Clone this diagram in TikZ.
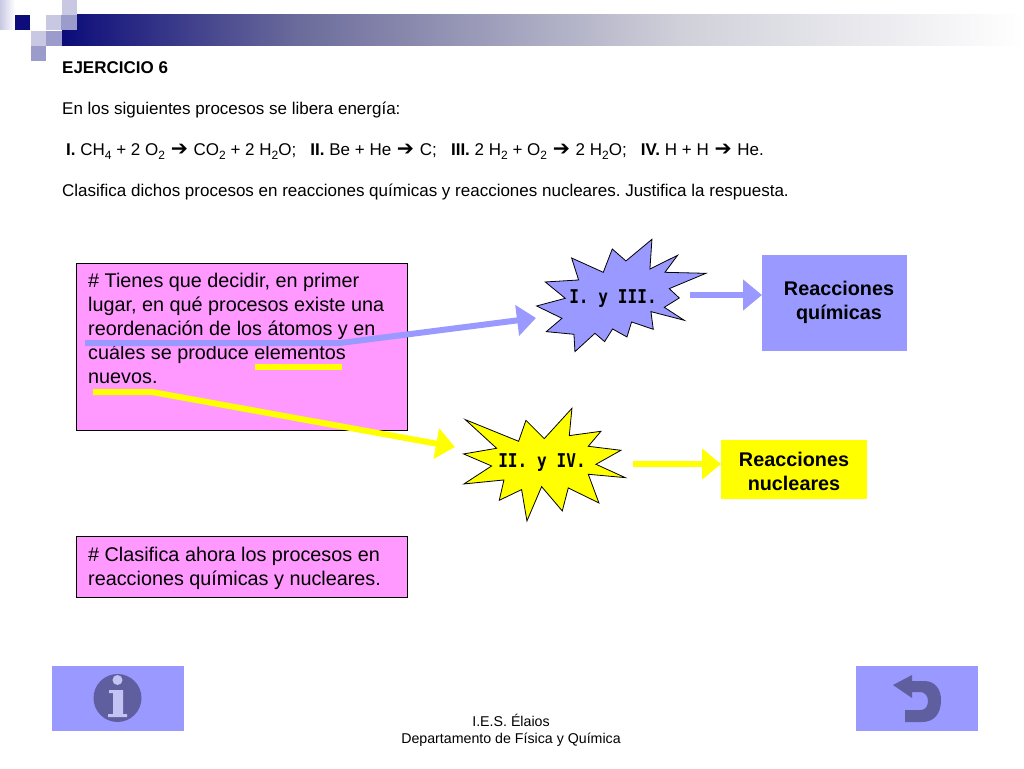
\documentclass[tikz,border=0pt]{standalone}
\usepackage{fontspec}
\setmainfont{Liberation Sans}
\newfontfamily\arrowfont{DejaVu Sans}
\newfontfamily\starfont{DejaVu Sans Mono}
\usetikzlibrary{arrows.meta}
\frenchspacing
\definecolor{periw}{HTML}{9999FF}
\definecolor{pinkbox}{HTML}{FF99FF}
\definecolor{pureyellow}{HTML}{FFFF00}
\definecolor{navyband}{HTML}{0C0C7A}
\definecolor{bandone}{HTML}{6C6C9C}
\definecolor{bandtwo}{HTML}{D0D0DA}
\definecolor{iconblue}{HTML}{5F5F9F}
\definecolor{iconlight}{HTML}{C4C4F4}
\definecolor{sqlight}{HTML}{C8C8E2}
\definecolor{sqmid}{HTML}{9C9CCC}
\newcommand{\rarrow}{\hspace{1pt}{\arrowfont\fontsize{20.5}{20}\selectfont\char"2794}\hspace{1pt}}
\newcommand{\lowered}[1]{\raisebox{-0.25em}{\fontsize{12}{14}\selectfont #1}}
\tikzset{
    smalltext/.style={anchor=base west,inner sep=0pt,font=\fontsize{17}{20}\selectfont},
    pinktext/.style={anchor=north west,inner sep=0pt,align=left,font=\fontsize{19.8}{24}\selectfont},
    boxtext/.style={inner sep=0pt,align=center,font=\fontsize{19.8}{24}\selectfont\bfseries},
    footertext/.style={inner sep=0pt,align=center,font=\fontsize{14.2}{17}\selectfont},
    startext/.style={inner sep=0pt,xscale=0.85,font=\fontsize{19}{22}\selectfont\starfont\bfseries},
    bluearrow/.style={draw=periw,line width=6pt,-{Triangle[length=19pt,width=30pt]}},
    yellowarrow/.style={draw=pureyellow,line width=6pt,-{Triangle[length=19pt,width=30pt]}},
}
\begin{document}
\begin{tikzpicture}[x=1pt,y=-1pt]
    \useasboundingbox (0,0) rectangle (1024,768);
    % banner at the top
    \shade[left color=navyband,right color=bandone] (62,15) rectangle (300,46);
    \shade[left color=bandone,right color=bandtwo] (300,15) rectangle (680,46);
    \shade[left color=bandtwo,right color=white] (680,15) rectangle (1024,46);
    \shade[left color=sqlight,right color=white] (0,0) rectangle (15,30);
    \fill[sqlight] (62,0) rectangle (77,15);
    \fill[navyband] (15,15) rectangle (30,30);
    \fill[sqlight] (46,15) rectangle (61,30);
    \fill[sqmid] (61,15) rectangle (77,30);
    \fill[sqlight] (31,31) rectangle (46,46);
    \fill[sqmid] (46,31) rectangle (62,46);
    \fill[sqmid] (31,46) rectangle (46,61);
    % exercise text
    \node[smalltext] (title) at (62,73) {\textbf{EJERCICIO 6}};
    \node[smalltext] (intro) at (62,114) {En los siguientes procesos se libera energía:};
    \node[smalltext] (equations) at (66,155) {\textbf{I.} CH\lowered{4} + 2 O\lowered{2} \rarrow{} CO\lowered{2} + 2 H\lowered{2}O;\ \ \ \textbf{II.} Be + He \rarrow{} C;\ \ \ \textbf{III.} 2 H\lowered{2} + O\lowered{2} \rarrow{} 2 H\lowered{2}O;\ \ \ \textbf{IV.} H + H \rarrow{} He.};
    \node[smalltext] (question) at (62,196) {Clasifica dichos procesos en reacciones químicas y reacciones nucleares. Justifica la respuesta.};
    % pink boxes
    \draw[fill=pinkbox,line width=0.8pt] (76,263) rectangle (407,430);
    \draw[fill=pinkbox,line width=0.8pt] (76,536) rectangle (407,597);
    \node[pinktext] (hint) at (88,273) {\# Tienes que decidir, en primer\\lugar, en qué procesos existe una\\reordenación de los átomos y en\\cuáles se produce elementos\\nuevos.};
    \node[pinktext] (classify) at (88,547) {\# Clasifica ahora los procesos en\\reacciones químicas y nucleares.};
    % result boxes
    \node[fill=periw,minimum width=145pt,minimum height=96pt,inner sep=0pt] (bluebox) at (834.5,303) {};
    \node[fill=pureyellow,minimum width=146pt,minimum height=59pt,inner sep=0pt] (yellowbox) at (794,469.5) {};
    \node[boxtext] (chemical) at (839,302) {Reacciones\\químicas};
    \node[boxtext] (nuclear) at (794,471) {Reacciones\\nucleares};
    % stars, coordinates read in thirds of a pixel
    \begin{scope}[x=0.3333pt,y=-0.3333pt,shift={(1320,690)},line width=0.8pt]
        \draw[fill=periw,line join=miter] (636,28)--(558,93)--(517,57)--(490,127)--(395,84)--(416,150)--(316,156)--(376,205)--(290,228)--(366,265)--(319,305)--(402,313)--(405,365)--(465,310)--(494,335)--(518,297)--(561,321)--(575,276)--(640,298)--(633,245)--(733,271)--(673,232)--(718,204)--(688,176)--(798,130)--(675,127)--(713,76)--(630,117)--cycle;
        \draw[fill=pureyellow,line join=miter] (396,535)--(388,617)--(483,604)--(445,649)--(543,661)--(468,703)--(556,743)--(445,733)--(477,819)--(385,774)--(367,843)--(305,770)--(261,873)--(245,779)--(178,811)--(192,750)--(72,762)--(155,708)--(71,672)--(170,655)--(76,569)--(236,634)--(258,571)--(313,626)--cycle;
    \end{scope}
    \node[startext] (starone) at (613,299) {I. y III.};
    \node[startext] (startwo) at (542,463) {II. y IV.};
    % arrows
    \coordinate (bluestart) at (85,343);
    \coordinate (bluebend) at (340,343);
    \coordinate (bluetip) at (536,318);
    \coordinate (yellowstart) at (93,392);
    \coordinate (yellowbend) at (152,392);
    \coordinate (yellowtip) at (455,447);
    \coordinate (markleft) at (255,367);
    \coordinate (markright) at (342,367);
    \coordinate (bluenext) at (690,295);
    \coordinate (blueend) at (762,295);
    \coordinate (yellownext) at (633,464);
    \coordinate (yellowend) at (721,464);
    \draw[bluearrow] (bluestart)--(bluebend)--(bluetip);
    \draw[yellowarrow] (yellowstart)--(yellowbend)--(yellowtip);
    \draw[draw=pureyellow,line width=5.5pt] (markleft)--(markright);
    \draw[bluearrow] (bluenext)--(blueend);
    \draw[yellowarrow] (yellownext)--(yellowend);
    % buttons at the bottom
    \fill[periw] (52,666) rectangle (184,731);
    \fill[periw] (856,666) rectangle (978,731);
    \fill[iconblue] (117.5,698) circle (24);
    \fill[iconlight] (117.5,680) circle (5);
    \fill[iconlight] (109,690)--(123,690)--(123,714)--(127,714)--(127,717)--(108,717)--(108,714)--(113,714)--(113,693)--(109,693)--cycle;
    \fill[iconblue] (893,685)--(912,675)--(912,681)--(924,681) .. controls (935,681) and (941,689) .. (941,700) .. controls (941,714) and (934,722) .. (922,722)--(905,722)--(905,710)--(921,710) .. controls (926,710) and (928,705) .. (928,701) .. controls (928,696) and (925,692) .. (920,692)--(912,692)--(912,698)--cycle;
    % footer
    \node[footertext] (school) at (511,730) {I.E.S. Élaios\\Departamento de Física y Química};
\end{tikzpicture}
\end{document}
